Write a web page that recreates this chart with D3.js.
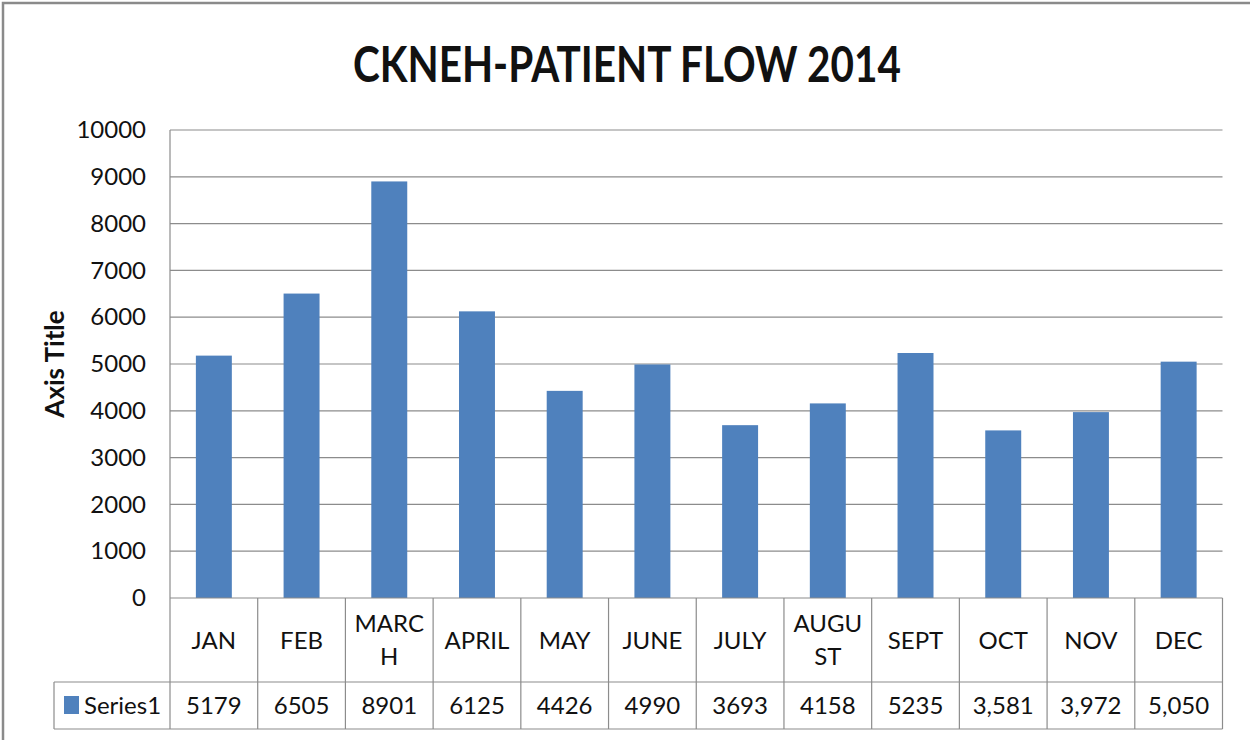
<!DOCTYPE html>
<html><head><meta charset="utf-8">
<script src="https://cdn.jsdelivr.net/npm/d3@7"></script>
<style>
html,body{margin:0;padding:0;background:#fff;}
svg{display:block;}
text{font-family:Lato,"Open Sans",sans-serif;fill:#111;}
</style></head>
<body>
<svg id="chart" width="1250" height="740"></svg>
<script>
const titleText = "CKNEH-PATIENT FLOW 2014";
const categories = ["JAN","FEB","MARCH","APRIL","MAY","JUNE","JULY","AUGUST","SEPT","OCT","NOV","DEC"];
const categoryLines = [["JAN"],["FEB"],["MARC","H"],["APRIL"],["MAY"],["JUNE"],["JULY"],["AUGU","ST"],["SEPT"],["OCT"],["NOV"],["DEC"]];
const seriesName = "Series1";
const values = [5179,6505,8901,6125,4426,4990,3693,4158,5235,3581,3972,5050];
const valueLabels = ["5179","6505","8901","6125","4426","4990","3693","4158","5235","3,581","3,972","5,050"];
const yTicks = [0,1000,2000,3000,4000,5000,6000,7000,8000,9000,10000];
const yAxisTitle = "Axis Title";

(function(){
const svg = d3.select("#chart");
const pL = 170, pR = 1222.5, pT = 130, pB = 598;
const catRowBottom = 682, valRowBottom = 729, legendLeft = 54;
const gridColor = "#8c8c8c", barColor = "#4F81BD";

// outer frame
svg.append("rect").attr("x",3).attr("y",3).attr("width",1262).attr("height",760)
  .attr("fill","none").attr("stroke","#8a8a8a").attr("stroke-width",2.5);

const x = d3.scaleBand().domain(categories).range([pL,pR]).padding(0);
const y = d3.scaleLinear().domain([0,10000]).range([pB,pT]);

// gridlines
svg.append("g").selectAll("line").data(yTicks.filter(d=>d>0)).join("line")
  .attr("x1",pL).attr("x2",pR).attr("y1",d=>y(d)).attr("y2",d=>y(d))
  .attr("stroke",gridColor).attr("stroke-width",1.2);

// y axis with d3
const yAxis = d3.axisLeft(y).tickValues(yTicks).tickSize(0).tickPadding(24).tickFormat(d3.format("d"));
const gy = svg.append("g").attr("transform",`translate(${pL},0)`).call(yAxis);
gy.select(".domain").remove();
gy.selectAll("text").attr("font-size",24).attr("fill","#111").style("font-family","Lato");

// bars
const barW = x.bandwidth()*0.41;
svg.append("g").selectAll("rect").data(values).join("rect")
  .attr("x",(d,i)=>x(categories[i])+(x.bandwidth()-barW)/2)
  .attr("width",barW)
  .attr("y",d=>y(d)).attr("height",d=>y(0)-y(d))
  .attr("fill",barColor);

// data table
const tg = svg.append("g").attr("stroke",gridColor).attr("stroke-width",1.2);
tg.append("line").attr("x1",pL).attr("x2",pL).attr("y1",pT).attr("y2",valRowBottom);
tg.append("line").attr("x1",pL).attr("x2",pR).attr("y1",pB).attr("y2",pB);
tg.append("line").attr("x1",legendLeft).attr("x2",pR).attr("y1",catRowBottom).attr("y2",catRowBottom);
tg.append("line").attr("x1",legendLeft).attr("x2",pR).attr("y1",valRowBottom).attr("y2",valRowBottom);
tg.append("line").attr("x1",legendLeft).attr("x2",legendLeft).attr("y1",catRowBottom).attr("y2",valRowBottom);
tg.selectAll("line.col").data(categories).join("line").attr("class","col")
  .attr("x1",d=>x(d)+x.bandwidth()).attr("x2",d=>x(d)+x.bandwidth())
  .attr("y1",pB).attr("y2",valRowBottom);

// category labels
const catG = svg.append("g");
categoryLines.forEach((lines,i)=>{
  const cx = x(categories[i]) + x.bandwidth()/2;
  const cy = (pB+catRowBottom)/2;
  const lh = 33;
  lines.forEach((ln,j)=>{
    catG.append("text").attr("x",cx)
      .attr("y",cy + (j-(lines.length-1)/2)*lh)
      .attr("dy","0.36em").attr("text-anchor","middle").attr("font-size",24).text(ln);
  });
});

// value labels
svg.append("g").selectAll("text").data(valueLabels).join("text")
  .attr("x",(d,i)=>x(categories[i])+x.bandwidth()/2)
  .attr("y",(catRowBottom+valRowBottom)/2).attr("dy","0.36em")
  .attr("text-anchor","middle").attr("font-size",24).text(d=>d);

// legend key
svg.append("rect").attr("x",64).attr("y",696).attr("width",15).attr("height",18).attr("fill",barColor);
svg.append("text").attr("x",84).attr("y",(catRowBottom+valRowBottom)/2).attr("dy","0.36em")
  .attr("font-size",24).text(seriesName);

// title
svg.append("text").attr("x",627).attr("y",82).attr("text-anchor","middle")
  .attr("font-size",50).attr("font-weight","bold")
  .attr("textLength",548).attr("lengthAdjust","spacingAndGlyphs").text(titleText);

// y axis title
svg.append("text").attr("transform","translate(64,364) rotate(-90)")
  .attr("text-anchor","middle").attr("font-size",26).attr("font-weight","bold").text(yAxisTitle);
})();
</script>
</body></html>
